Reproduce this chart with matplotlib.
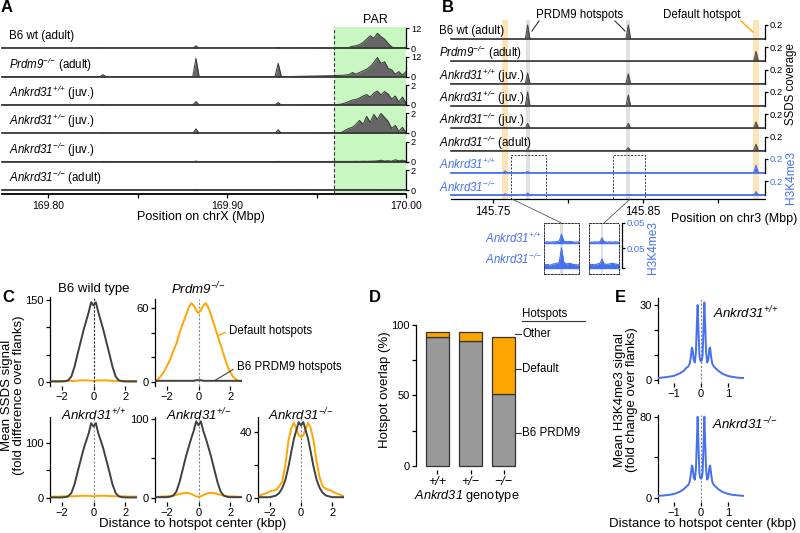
import matplotlib
matplotlib.use('Agg')
import matplotlib.pyplot as plt
from matplotlib.patches import Rectangle, ConnectionPatch

plt.rcParams['font.family'] = ['Liberation Sans', 'DejaVu Sans']
plt.rcParams['mathtext.fontset'] = 'custom'
plt.rcParams['mathtext.rm'] = 'Liberation Sans'
plt.rcParams['mathtext.it'] = 'Liberation Sans:italic'
plt.rcParams['mathtext.sf'] = 'Liberation Sans:italic'   # italic incl. digits
plt.rcParams['mathtext.bf'] = 'Liberation Sans:bold'
plt.rcParams['axes.linewidth'] = 0.9
plt.rcParams['xtick.major.width'] = 0.9
plt.rcParams['ytick.major.width'] = 0.9

GRAY = '#404040'
FILL = '#666666'
ORANGE = '#ffa500'
BLUE = '#4570ee'
GREEN = '#c8f7c2'
HL_OR = '#fde4b8'
HL_GR = '#e0e0e0'
LFS = 8.3   # track labels / annotations
FS = 9.5    # axis labels / titles
TFS = 7.5   # tick labels


def ank(g):
    a, b = g.split('/')
    return r'$\mathsf{Ankrd31}^{\mathsf{{%s}/{%s}}}$' % (a, b)


PRDM9 = r'$\mathsf{Prdm9}^{\mathsf{{-}/{-}}}$'

# ---------------- panel A data (chrX, Mbp) ----------------
A_XLIM = (169.774, 170.0)
a_labels = ['B6 wt (adult)', PRDM9 + ' (adult)', ank('+/+') + ' (juv.)',
            ank('+/-') + ' (juv.)', ank('-/-') + ' (juv.)', ank('-/-') + ' (adult)']
a_ymax = [12, 12, 2, 2, 2, 2]
a_peak_pos = [169.8305, 169.8825, 169.9285]
a_peak_h = [[0.2, 1.5, 0.6],
            [1.2, 11.0, 8.0],
            [0.05, 0.35, 0.25],
            [0.05, 0.45, 0.35],
            [0.03, 0.06, 0.04],
            [0.02, 0.06, 0.03]]
a_par_x = [169.960, 169.962, 169.964, 169.966, 169.968, 169.970, 169.972,
           169.974, 169.976, 169.978, 169.980, 169.982, 169.984, 169.986,
           169.988, 169.990, 169.992, 169.994, 169.996, 169.998, 170.000]
a_par = [[0.2, 0.2, 0.2, 0.3, 0.5, 1.2, 1.5, 2.2, 3.5, 5.5, 7.5, 6.0, 9.0, 7.0, 5.5, 3.0, 0.8, 0.3, 0.2, 0.2, 0.2],
         [0.6, 0.8, 0.8, 1.0, 1.2, 2.5, 1.5, 2.5, 3.5, 4.5, 6.0, 8.5, 11.5, 8.0, 9.0, 5.0, 4.0, 1.5, 3.0, 1.0, 3.0],
         [0.05, 0.05, 0.1, 0.2, 0.35, 0.5, 0.55, 0.7, 0.9, 1.05, 0.8, 1.2, 1.4, 1.0, 1.35, 1.1, 0.6, 0.9, 0.3, 0.8, 0.2],
         [0.05, 0.05, 0.1, 0.3, 0.5, 0.6, 0.9, 1.3, 0.9, 1.7, 1.1, 1.9, 1.4, 2.0, 1.6, 1.2, 0.5, 0.8, 0.2, 0.6, 0.1],
         [0.03, 0.03, 0.03, 0.03, 0.03, 0.03, 0.04, 0.03, 0.05, 0.04, 0.05, 0.06, 0.08, 0.15, 0.06, 0.1, 0.05, 0.2, 0.08, 0.15, 0.05],
         [0.02, 0.02, 0.02, 0.03, 0.02, 0.03, 0.02, 0.03, 0.02, 0.04, 0.03, 0.03, 0.05, 0.03, 0.04, 0.03, 0.05, 0.03, 0.04, 0.03, 0.02]]
A_PAR_START = 169.960

# ---------------- panel B data (chr3, Mbp) ----------------
B_XLIM = (145.722, 145.931)
b_labels = ['B6 wt (adult)', PRDM9 + ' (adult)', ank('+/+') + ' (juv.)',
            ank('+/-') + ' (juv.)', ank('-/-') + ' (juv.)', ank('-/-') + ' (adult)',
            ank('+/+'), ank('-/-')]
b_is_h3 = [False, False, False, False, False, False, True, True]
b_hot_pos = [145.758, 145.773, 145.840, 145.925]
b_hot_kind = ['default', 'prdm9', 'prdm9', 'default']
b_peak_h = [[0.0, 0.2, 0.2, 0.0],
            [0.015, 0.0, 0.0, 0.14],
            [0.0, 0.15, 0.14, 0.0],
            [0.0, 0.2, 0.155, 0.0],
            [0.01, 0.07, 0.07, 0.09],
            [0.0, 0.01, 0.04, 0.09],
            [0.03, 0.02, 0.01, 0.11],
            [0.02, 0.03, 0.01, 0.05]]
b_boxes = [(145.762, 145.785), (145.830, 145.8513)]

ins_x = [[145.762, 145.764, 145.766, 145.768, 145.770, 145.772, 145.7735, 145.775, 145.777, 145.779, 145.781, 145.783, 145.785],
         [145.830, 145.832, 145.834, 145.836, 145.838, 145.8392, 145.8405, 145.8425, 145.8445, 145.8465, 145.8485, 145.8505, 145.8513]]
ins_wt = [[0.002, 0.003, 0.002, 0.003, 0.003, 0.005, 0.022, 0.005, 0.003, 0.004, 0.003, 0.002, 0.003],
          [0.002, 0.002, 0.003, 0.002, 0.004, 0.013, 0.004, 0.002, 0.003, 0.002, 0.003, 0.002, 0.002]]
ins_ko = [[0.008, 0.009, 0.007, 0.010, 0.011, 0.014, 0.050, 0.014, 0.010, 0.012, 0.009, 0.008, 0.008],
          [0.008, 0.009, 0.008, 0.010, 0.012, 0.022, 0.011, 0.009, 0.010, 0.012, 0.010, 0.009, 0.008]]
ins_hot = [145.7735, 145.8392]

# ---------------- panel C data (kbp) ----------------
C_X = [-2.75, -2.5, -2.2, -2.0, -1.8, -1.6, -1.4, -1.2, -1.0, -0.8, -0.6, -0.45, -0.3, -0.15, 0.0,
       0.15, 0.3, 0.45, 0.6, 0.8, 1.0, 1.2, 1.4, 1.6, 1.8, 2.0, 2.2, 2.5, 2.75]
c_wt_b6 = [1, 1, 1, 1, 1.5, 3, 10, 28, 52, 75, 98, 113, 128, 146, 140,
           146, 128, 113, 98, 75, 52, 28, 10, 3, 1.5, 1, 1, 1, 1]
c_wt_def = [2, 2, 2, 2, 2, 2, 2, 2, 2.5, 3, 3, 3, 3, 2.5, 2,
            2.5, 3, 3, 3, 3, 2.5, 2, 2, 2, 2, 2, 2, 2, 2]
c_prdm9_def = [0.5, 3, 8, 13, 18, 25, 31, 40, 47, 54, 61, 64, 62, 58, 56,
               58, 62, 64, 61, 54, 46, 38, 30, 22, 14, 8, 4, 1, 0.5]
c_prdm9_b6 = [1, 1, 1, 1, 1, 1, 1, 1, 1, 1, 1, 1, 1, 1.5, 1.5,
              1.5, 1, 1, 1, 1, 1, 1, 1, 1, 1, 1, 1, 1, 1]
c_wt2_b6 = [1, 1, 1, 1, 1.5, 3, 9, 25, 48, 70, 92, 105, 118, 136, 130,
            136, 118, 105, 92, 70, 48, 25, 9, 3, 1.5, 1, 1, 1, 1]
c_wt2_def = [2.5, 2.5, 2.5, 3, 3, 3, 3, 3.5, 3.5, 4, 4, 4, 4, 3.5, 3,
             3.5, 4, 4, 4, 4, 3.5, 3.5, 3, 3, 3, 3, 2.5, 2.5, 2.5]
c_het_b6 = [1, 1, 1, 1, 1.5, 3, 8, 20, 36, 52, 66, 76, 85, 97, 92,
            97, 85, 76, 66, 52, 36, 20, 8, 3, 1.5, 1, 1, 1, 1]
c_het_def = [1.5, 1.5, 2, 2, 2.5, 3, 4, 5, 6, 6.5, 6, 5, 3.5, 2, 1.5,
             2, 3.5, 5, 6, 6.5, 6, 5, 4, 3, 2.5, 2, 2, 1.5, 1.5]
c_ko_b6 = [0.5, 0.5, 0.5, 0.5, 1, 1.5, 3, 6, 11, 19, 29, 36, 41, 46, 44,
           46, 41, 36, 29, 19, 11, 6, 3, 1.5, 1, 0.5, 0.5, 0.5, 0.5]
c_ko_def = [1, 2, 3, 4, 4.5, 5, 7, 10, 20, 35, 43, 45.5, 42, 38, 37,
            38, 42, 45.5, 43, 35, 22, 12, 7, 5.5, 5, 4, 3, 2, 1]

# ---------------- panel D data (%) ----------------
d_geno = ['+/+', '+/\u2212', '\u2212/\u2212']
d_b6 = [91.5, 88.7, 51.0]
d_default = [3.5, 6.3, 40.5]

# ---------------- panel E data (kbp) ----------------
E_X = [-1.6, -1.4, -1.2, -1.0, -0.8, -0.65, -0.55, -0.47, -0.42, -0.38, -0.34, -0.31, -0.27, -0.23,
       -0.19, -0.155, -0.125, -0.095, -0.06, -0.03, 0.0, 0.03, 0.06, 0.095, 0.125, 0.155, 0.19,
       0.23, 0.27, 0.31, 0.34, 0.38, 0.42, 0.47, 0.55, 0.65, 0.8, 1.0, 1.2, 1.4, 1.6]
e_wt = [0.8, 1.0, 1.3, 1.7, 2.6, 3.6, 4.8, 5.5, 6.5, 9, 13, 12, 8, 7,
        11, 22, 30, 20, 10, 8, 7.5, 8, 10, 21, 31, 22, 11,
        7, 8, 12.5, 13, 9, 6.5, 5.5, 4.6, 3.6, 2.5, 1.6, 1.2, 0.9, 0.8]
e_ko = [2, 2.5, 3, 4, 6, 8.5, 11, 13, 16, 23, 32, 30, 20, 18,
        28, 55, 80, 52, 25, 20, 19, 20, 25, 52, 80, 55, 28,
        18, 20, 30, 32, 23, 16, 13, 11, 8.5, 6, 4, 3, 2.5, 2]

W, H = 800, 533
fig = plt.figure(figsize=(W / 100, H / 100), dpi=100)


def rect(x0, y0, x1, y1):
    return [x0 / W, 1 - y1 / H, (x1 - x0) / W, (y1 - y0) / H]


def ftext(x, y, s, **kw):
    kw.setdefault('fontsize', FS)
    return fig.text(x / W, 1 - y / H, s, **kw)


def peak_profile(pos, heights, lo, hi, hw):
    xs, ys = [lo], [0]
    for p, h in sorted(zip(pos, heights)):
        xs += [p - hw, p, p + hw]
        ys += [0, h, 0]
    xs.append(hi)
    ys.append(0)
    return xs, ys


def track_axes(r, xlim, ymax, ticks, labels, fs, lbl_color='black'):
    ax = fig.add_axes(r)
    ax.set_facecolor('none')
    ax.set_xlim(*xlim)
    ax.set_ylim(0, ymax)
    for s in ['top', 'left', 'bottom']:
        ax.spines[s].set_visible(False)
    ax.spines['right'].set_bounds(0, ymax)
    ax.set_xticks([])
    ax.yaxis.tick_right()
    ax.set_yticks(ticks)
    ax.set_yticklabels(labels, fontsize=fs, color=lbl_color)
    ax.tick_params(axis='y', length=2.5, pad=1)
    return ax


# ================= panel A =================
ax_a = fig.add_axes(rect(2, 27, 406, 194))
ax_a.set_xlim(*A_XLIM)
ax_a.set_ylim(0, 1)
ax_a.axvspan(A_PAR_START, A_XLIM[1], color=GREEN, lw=0)
ax_a.axvline(A_PAR_START, color='#333333', ls=(0, (3, 2)), lw=0.8)
for s in ['top', 'left', 'right']:
    ax_a.spines[s].set_visible(False)
ax_a.set_yticks([])
ax_a.set_xticks([169.80, 169.85, 169.90, 169.95, 170.00])
ax_a.set_xticklabels(['169.80', '', '169.90', '', '170.00'], fontsize=7.5)
ax_a.tick_params(axis='x', length=3, pad=2)
ax_a.spines['bottom'].set_linewidth(1.3)
ftext(201, 217, 'Position on chrX (Mbp)', ha='center', va='center', fontsize=9)
ftext(375, 20, 'PAR', ha='center', va='center', fontsize=9)

for i in range(6):
    yb = 48.3 + 28.35 * i
    ax = track_axes(rect(2, yb - 20, 406, yb), A_XLIM, a_ymax[i], [0, a_ymax[i]],
                    ['0', str(a_ymax[i])], 6.6)
    xs, ys = peak_profile(a_peak_pos, a_peak_h[i], A_XLIM[0], A_PAR_START, 0.0018)
    xs = xs[:-1] + a_par_x
    ys = ys[:-1] + a_par[i]
    ax.fill_between(xs, 0, ys, color=FILL, lw=0)
    ax.plot(xs, ys, color='#333333', lw=0.7)
    ax.axhline(0, color='#3a3a3a', lw=1.3, clip_on=False)
    ftext(9, yb - 12, a_labels[i], ha='left', va='center', fontsize=LFS)

# ================= panel B =================
ax_b = fig.add_axes(rect(451, 20, 765, 199))
ax_b.set_xlim(*B_XLIM)
ax_b.set_ylim(0, 1)
for p, k in zip(b_hot_pos, b_hot_kind):
    hw = 0.002 if k == 'default' else 0.0013
    ax_b.axvspan(p - hw, p + hw, color=HL_OR if k == 'default' else HL_GR, lw=0)
for s in ['top', 'left', 'right']:
    ax_b.spines[s].set_visible(False)
ax_b.set_yticks([])
ax_b.set_xticks([145.75, 145.80, 145.85, 145.90])
ax_b.set_xticklabels(['145.75', '', '145.85', ''], fontsize=8.3)
ax_b.tick_params(axis='x', length=3, pad=2)
for x0, x1 in b_boxes:
    ax_b.add_patch(Rectangle((x0, 0), x1 - x0, 0.245, transform=ax_b.get_xaxis_transform(),
                             fill=False, ec='#333333', lw=0.7, ls=(0, (2, 1.5)), clip_on=False))
ftext(734, 219, 'Position on chr3 (Mbp)', ha='center', va='center', fontsize=9)

for i in range(8):
    yb = 39 + 22.3 * i
    col = BLUE if b_is_h3[i] else GRAY
    ax = track_axes(rect(451, yb - 14, 765, yb), B_XLIM, 0.2, [0.2], ['0.2'], 6.8,
                    lbl_color=BLUE if b_is_h3[i] else 'black')
    xs, ys = peak_profile(b_hot_pos, b_peak_h[i], B_XLIM[0], B_XLIM[1], 0.0016)
    ax.fill_between(xs, 0, ys, color=BLUE if b_is_h3[i] else FILL, lw=0, clip_on=False)
    ax.plot(xs, ys, color=col, lw=0.7, clip_on=False)
    ax.axhline(0, color=col, lw=1.2, clip_on=False)
    ftext(439, yb - 8, b_labels[i], ha='left', va='center', fontsize=LFS,
          color=BLUE if b_is_h3[i] else 'black')

ftext(580, 15, 'PRDM9 hotspots', ha='center', va='center', fontsize=LFS)
ftext(702, 15, 'Default hotspot', ha='center', va='center', fontsize=LFS)
fig.add_artist(plt.Line2D([539 / W, 532 / W], [1 - 21 / H, 1 - 31 / H], color='#333333', lw=0.8))
fig.add_artist(plt.Line2D([615 / W, 625 / W], [1 - 21 / H, 1 - 31 / H], color='#333333', lw=0.8))
fig.add_artist(plt.Line2D([741 / W, 753 / W], [1 - 21 / H, 1 - 32 / H], color=ORANGE, lw=1.0))
ftext(791, 84, 'SSDS coverage', ha='center', va='center', rotation=90, fontsize=LFS)
ftext(791, 178, 'H3K4me3', ha='center', va='center', rotation=90, color=BLUE, fontsize=8.6)

# insets
ins_rects = [(544, 579), (589, 619)]
for j in range(2):
    x0, x1 = ins_rects[j]
    axi = fig.add_axes(rect(x0, 223, x1, 274))
    axi.set_xlim(b_boxes[j])
    axi.set_ylim(-0.015, 0.1125)
    axi.set_xticks([])
    axi.set_yticks([])
    for s in axi.spines.values():
        s.set_linestyle((0, (2, 1.5)))
        s.set_linewidth(0.7)
        s.set_color('#333333')
    axi.axvspan(ins_hot[j] - 0.0009, ins_hot[j] + 0.0009, color=HL_GR, lw=0)
    for off, vals in [(0.0625, ins_wt[j]), (0.0, ins_ko[j])]:
        yv = [v + off for v in vals]
        axi.fill_between(ins_x[j], off, yv, color=BLUE, lw=0)
        axi.plot(ins_x[j], yv, color=BLUE, lw=0.8)
        axi.axhline(off, color=BLUE, lw=1.0)
    start_x = b_boxes[0][0] + 0.0005 if j == 0 else 145.8413
    con = ConnectionPatch(xyA=(start_x, 0), coordsA=ax_b.get_xaxis_transform(),
                          xyB=(0.5, 1), coordsB=axi.transAxes, color='#555555', lw=0.6)
    fig.add_artist(con)

axbr = fig.add_axes(rect(600, 223, 622, 274))
axbr.set_facecolor('none')
axbr.set_ylim(-0.015, 0.1125)
axbr.set_xticks([])
for s in ['top', 'left', 'bottom']:
    axbr.spines[s].set_visible(False)
axbr.spines['right'].set_bounds(0, 0.1125)
axbr.yaxis.tick_right()
axbr.set_yticks([0, 0.05, 0.1125])
axbr.set_yticklabels(['', '0.05', '0.05'], fontsize=6.8, color=BLUE)
axbr.tick_params(axis='y', length=2.5, pad=1)
ftext(542, 238, ank('+/+'), ha='right', va='center', color=BLUE, fontsize=LFS)
ftext(542, 259, ank('-/-'), ha='right', va='center', color=BLUE, fontsize=LFS)
ftext(653, 247, 'H3K4me3', ha='center', va='center', rotation=90, color=BLUE, fontsize=8.6)


# ================= panel C =================
def profile_axes(r, xlim, ylim, yt, ytl, xt):
    ax = fig.add_axes(r)
    ax.set_xlim(*xlim)
    ax.set_ylim(*ylim)
    for s in ['top', 'right', 'bottom']:
        ax.spines[s].set_visible(False)
    ax.set_yticks(yt)
    ax.set_yticklabels(ytl, fontsize=TFS + 0.5)
    ax.set_xticks(xt)
    ax.set_xticklabels([('\u2212' if v < 0 else '') + str(abs(v)) for v in xt], fontsize=TFS + 0.5)
    ax.tick_params(length=3, pad=1.5)
    ax.axvline(0, color='#888888', lw=0.8, ls=(0, (2, 1.5)), zorder=1)
    return ax


c_axes = [
    (rect(50, 297, 137, 386), (-7.3, 155.5), [0, 50, 100, 150], ['0', '', '', '150'], c_wt_b6, c_wt_def, 'B6 wild type', 289),
    (rect(155, 299, 242, 386), (-3.2, 67.3), [0, 20, 40, 60], ['0', '', '', '60'], c_prdm9_b6, c_prdm9_def, PRDM9, 289),
    (rect(50, 417, 137, 502), (-7.3, 147.3), [0, 50, 100], ['0', '', '100'], c_wt2_b6, c_wt2_def, ank('+/+'), 415),
    (rect(155, 417, 242, 502), (-5.1, 102.5), [0, 50, 100], ['0', '', '100'], c_het_b6, c_het_def, ank('+/-'), 415),
    (rect(258, 417, 344, 502), (-2.4, 49.1), [0, 20, 40], ['0', '', '40'], c_ko_b6, c_ko_def, ank('-/-'), 415),
]
c_ax_list = []
for r, yl, yt, ytl, b6, dflt, title, ty in c_axes:
    ax = profile_axes(r, (-2.75, 2.75), yl, yt, ytl, [-2, 0, 2])
    ax.plot(C_X, dflt, color=ORANGE, lw=1.4, zorder=2)
    ax.plot(C_X, b6, color=GRAY, lw=1.4, zorder=3)
    x0, y0, w, h = r
    ftext((x0 + w / 2) * W, ty, title, ha='center', va='center', fontsize=FS)
    c_ax_list.append(ax)

c_ax_list[0].axvline(0, color='#333333', lw=0.8, ls=(0, (2, 1.5)), zorder=4)
c_ax_list[1].annotate('Default hotspots', xy=(1.2, 37.5), xytext=(1.95, 41.5), fontsize=LFS,
                      va='center', ha='left', annotation_clip=False,
                      arrowprops=dict(arrowstyle='-', color=ORANGE, lw=1.0, shrinkA=1, shrinkB=0, relpos=(0, 0.5)))
c_ax_list[1].annotate('B6 PRDM9 hotspots', xy=(1.0, 1.0), xytext=(2.45, 12.2), fontsize=LFS,
                      va='center', ha='left', annotation_clip=False,
                      arrowprops=dict(arrowstyle='-', color=GRAY, lw=0.8, shrinkA=1, shrinkB=0, relpos=(0, 0.5)))
ftext(13, 395, 'Mean SSDS signal\n(fold difference over flanks)', ha='center', va='center',
      rotation=90, fontsize=FS, linespacing=1.0)
ftext(193, 524, 'Distance to hotspot center (kbp)', ha='center', va='center', fontsize=FS)

# ================= panel D =================
ax_d = fig.add_axes(rect(416, 320, 525, 470))
ax_d.set_xlim(-0.65, 2.65)
ax_d.set_ylim(-2.8, 103.5)
xpos = list(range(len(d_geno)))
ax_d.bar(xpos, d_b6, width=0.7, color='#999999', edgecolor='#333333', lw=0.9)
ax_d.bar(xpos, d_default, bottom=d_b6, width=0.7, color=ORANGE, edgecolor='#333333', lw=0.9)
for s in ['top', 'right', 'bottom']:
    ax_d.spines[s].set_visible(False)
ax_d.spines['left'].set_bounds(0, 100)
ax_d.set_yticks([0, 25, 50, 75, 100])
ax_d.set_yticklabels(['0', '', '50', '', '100'], fontsize=TFS + 0.5)
ax_d.set_xticks(xpos)
ax_d.set_xticklabels(d_geno, fontsize=9, fontstyle='italic')
ax_d.tick_params(length=3, pad=1.5)
for y, lab in [(93.6, 'Other'), (68.8, 'Default'), (23.4, 'B6 PRDM9')]:
    ax_d.plot([2.35, 2.52], [y, y], color='#333333', lw=0.8, clip_on=False)
    ax_d.text(2.57, y, lab, va='center', ha='left', fontsize=LFS, clip_on=False)
ax_d.text(2.57, 107.8, 'Hotspots', va='center', ha='left', fontsize=LFS, clip_on=False)
ax_d.plot([2.55, 4.47], [102.8, 102.8], color='#333333', lw=0.8, clip_on=False)
ftext(385, 390, 'Hotspot overlap (%)', ha='center', va='center', rotation=90, fontsize=FS)
ftext(467, 496, r'$\mathsf{Ankrd31}$ genotype', ha='center', va='center', fontsize=9.2)

# ================= panel E =================
ax_e1 = profile_axes(rect(658, 298, 744, 383), (-1.6, 1.6), (-1.2, 32.8), [0, 10, 20, 30], ['0', '', '', '30'], [-1, 0, 1])
ax_e1.plot(E_X, e_wt, color=BLUE, lw=1.4, zorder=3)
ax_e1.text(0.44, 26.8, ank('+/+'), fontsize=FS, va='center', ha='left')
ax_e2 = profile_axes(rect(658, 415, 744, 502), (-1.6, 1.6), (-3.95, 81.7), [0, 40, 80], ['0', '', '80'], [-1, 0, 1])
ax_e2.plot(E_X, e_ko, color=BLUE, lw=1.4, zorder=3)
ax_e2.text(0.41, 73, ank('-/-'), fontsize=FS, va='center', ha='left')
ftext(626, 400, 'Mean H3K4me3 signal\n(fold change over flanks)', ha='center', va='center',
      rotation=90, fontsize=FS, linespacing=1.0)
ftext(703, 524, 'Distance to hotspot center (kbp)', ha='center', va='center', fontsize=FS)

# panel letters
for lt, x, y in [('A', 7, 8), ('B', 448, 8), ('C', 8, 298), ('D', 375, 298), ('E', 620, 298)]:
    ftext(x, y, lt, ha='center', va='center', fontsize=12, fontweight='bold')

fig.savefig('out.png', dpi=100)
